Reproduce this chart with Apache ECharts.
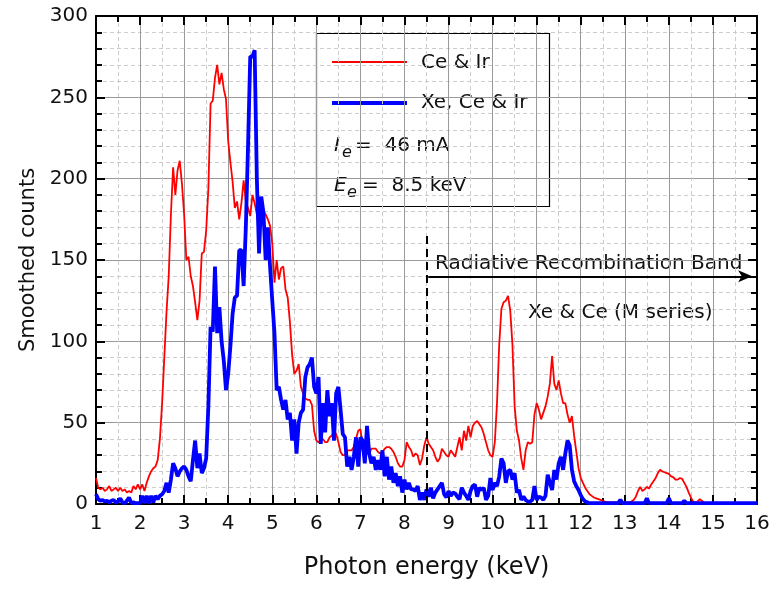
<!DOCTYPE html>
<html>
<head>
<meta charset="utf-8">
<script src="https://cdn.jsdelivr.net/npm/echarts@6/dist/echarts.min.js"></script>
<style>
  html, body { margin: 0; padding: 0; background: #fff; }
  #chart { width: 773px; height: 590px; }
</style>
</head>
<body>
<div id="chart"></div>
<script>
  // photon energy grid: 1.00 .. 16.00 keV in 0.05 keV steps
  const energyStart = 1
  const energyStep = 0.05

  // Ce & Ir (one row per keV)
  const ceIrCounts = [
    16, 10, 9, 10, 8, 9, 11, 8, 9, 10, 8, 10, 8, 9, 7, 8, 7, 11, 9, 12,
    9, 12, 8, 13, 17, 20, 22, 23, 27, 40, 62, 90, 118, 140, 178, 207, 190, 205, 211, 197,
    178, 150, 152, 140, 134, 124, 113, 125, 154, 155, 168, 194, 246, 248, 262, 270, 258, 265, 255, 249,
    223, 210, 198, 182, 186, 175, 185, 199, 186, 182, 177, 190, 185, 178, 168, 183, 180, 178, 175, 171,
    160, 136, 150, 138, 145, 146, 132, 127, 112, 92, 80, 82, 86, 72, 68, 65, 64, 64, 61, 45,
    39, 38, 39, 40, 38, 38, 41, 42, 45, 43, 38, 32, 30, 30, 33, 33, 33, 35, 40, 45,
    46, 36, 32, 31, 31, 34, 34, 34, 32, 31, 32, 34, 35, 35, 34, 32, 29, 25, 23, 23,
    27, 38, 35, 33, 29, 31, 30, 24, 28, 36, 41, 37, 35, 33, 29, 26, 28, 34, 32, 30,
    29, 33, 31, 29, 35, 41, 33, 45, 39, 48, 41, 48, 50, 51, 49, 47, 43, 38, 33, 30,
    29, 38, 62, 98, 120, 124, 125, 128, 119, 98, 60, 45, 39, 28, 21, 33, 38, 37, 38, 55,
    62, 58, 52, 56, 60, 66, 74, 91, 74, 70, 76, 68, 62, 62, 55, 50, 54, 42, 32, 22,
    16, 13, 10, 8, 6, 5, 4, 3.5, 3, 2.5, 2, 1.5, 1.2, 1, 1, 1.2, 1, 1, 1, 1.2,
    1, 1, 1.2, 1.5, 2.5, 4.5, 8, 10.5, 8, 9, 10.5, 9.5, 12, 14, 16, 19, 21, 20, 19.5, 19,
    18.5, 17, 16.5, 15, 15, 16, 15.5, 13, 10.5, 7, 4, 1.5, 1, 1.5, 3, 2, 0.8, 0.5, 0.5, 0.5,
    0.5, 0.5, 0.5, 0.5, 0.5, 0.5, 0.5, 0.5, 0.5, 0.5, 0.5, 0.5, 0.5, 0.5, 0.5, 0.5, 0.5, 0.5, 0.5, 0.5,
    0.5
  ]

  // Xe, Ce & Ir
  const xeCeIrCounts = [
    6, 3, 2, 2.5, 1.5, 2, 1, 2, 2.5, 1, 1.5, 3.5, 1, 0.5, 2, 4, 0.5, 1, 0.5, 0.5,
    0.5, 5, 0.5, 5, 0.5, 5, 1, 5, 3, 5, 6, 8, 13, 7, 15, 25, 22, 17, 20, 22,
    23, 21, 17, 14, 27, 39, 22, 31, 19, 22, 28, 60, 109, 106, 146, 105, 121, 100, 88, 70,
    80, 97, 117, 127, 128, 156, 156, 134, 170, 220, 275, 275, 279, 200, 154, 189, 179, 150, 170, 146,
    125, 105, 70, 72, 64, 58, 64, 52, 56, 39, 52, 31, 50, 56, 58, 78, 84, 86, 90, 72,
    68, 78, 37, 62, 44, 70, 54, 62, 39, 68, 72, 58, 43, 41, 23, 29, 21, 29, 41, 23,
    41, 39, 25, 48, 31, 25, 29, 21, 27, 21, 33, 17, 29, 15, 23, 13, 19, 11, 17, 7,
    15, 9, 13, 9, 9, 8, 11, 2.5, 7, 2.5, 9, 4.5, 10, 3.5, 7, 9, 11, 13, 6, 4,
    8, 5, 7, 6.5, 4.5, 3, 10, 7, 5, 2.5, 8, 11, 12, 4.5, 10, 8.6, 10, 2.5, 5, 16,
    8.6, 13, 11, 17, 28, 25, 13, 20, 21, 15, 19, 7, 8.6, 2.5, 4.5, 2.5, 1.5, 1.5, 2.5, 11,
    2.5, 4.5, 4, 2.5, 5, 18, 13, 8.6, 21, 15, 25, 29, 21, 31, 39, 36, 21, 14, 11, 8.6,
    5.5, 3, 1.5, 1, 0.5, 0.5, 0.5, 0.5, 0.5, 0.5, 0.5, 0.5, 0.5, 0.5, 0.5, 0.5, 0.5, 0.5, 2.5, 0.5,
    0.5, 0.5, 0.5, 0.5, 0.5, 0.5, 0.5, 0.5, 0.5, 0.5, 3.5, 0.5, 0.5, 0.5, 0.5, 0.5, 0.5, 0.5, 0.5, 0.5,
    3.5, 0.5, 0.5, 0.5, 0.5, 0.5, 0.5, 2, 0.5, 0.5, 0.5, 0.5, 0.5, 0.5, 0.5, 0.5, 0.5, 0.5, 0.5, 0.5,
    0.5, 0.5, 0.5, 0.5, 0.5, 0.5, 0.5, 0.5, 0.5, 0.5, 0.5, 0.5, 0.5, 0.5, 0.5, 0.5, 0.5, 0.5, 0.5, 0.5,
    0.5
  ]

  const seriesNames = ['Ce & Ir', 'Xe, Ce & Ir']
  const beamCurrent = '46 mA'
  const beamEnergy = '8.5 keV'
  const bandStart = 8.5
  const bandLevel = 140
  const dashTop = 167

  function pairs(counts) {
    return counts.map((c, i) => [+(energyStart + i * energyStep).toFixed(2), c])
  }

  const font = 'DejaVu Sans'
  const textColor = '#111'

  const axisLine = {show: true, onZero: false, lineStyle: {color: '#000', width: 2}}
  const tick = {show: true, inside: true, length: 9, lineStyle: {color: '#000', width: 2}}

  function label(x, y, text, size, style) {
    return {
      type: 'text',
      x: x,
      y: y,
      style: {
        text: text,
        font: (style || '') + ' ' + size + 'px ' + font,
        fill: textColor,
        textVerticalAlign: 'middle',
        verticalAlign: 'middle'
      }
    }
  }

  let chart = echarts.init(document.getElementById('chart'))
  let option = {
    animation: false,
    backgroundColor: '#fff',
    grid: {left: 96, right: 16, top: 16, bottom: 86},
    xAxis: [
      {
        type: 'value',
        min: 1,
        max: 16,
        interval: 1,
        name: 'Photon energy (keV)',
        nameLocation: 'middle',
        nameGap: 52,
        nameTextStyle: {fontFamily: font, fontSize: 24, color: textColor},
        axisLine: axisLine,
        axisTick: tick,
        minorTick: {show: true, splitNumber: 2, length: 6, lineStyle: {color: '#000', width: 2}},
        axisLabel: {fontFamily: font, fontSize: 20, color: textColor, margin: 10},
        splitLine: {show: true, lineStyle: {color: '#9a9a9a', width: 1}},
        minorSplitLine: {show: true, lineStyle: {color: '#cccccc', type: [4, 3], width: 1}}
      },
      {
        type: 'value',
        position: 'top',
        min: 1,
        max: 16,
        interval: 1,
        axisLine: axisLine,
        axisTick: tick,
        minorTick: {show: true, splitNumber: 2, length: 6, lineStyle: {color: '#000', width: 2}},
        axisLabel: {show: false},
        splitLine: {show: false}
      }
    ],
    yAxis: [
      {
        type: 'value',
        min: 0,
        max: 300,
        interval: 50,
        name: 'Smoothed counts',
        nameLocation: 'middle',
        nameGap: 55,
        nameTextStyle: {fontFamily: font, fontSize: 21, color: textColor},
        axisLine: axisLine,
        axisTick: tick,
        minorTick: {show: true, splitNumber: 5, length: 6, lineStyle: {color: '#000', width: 2}},
        axisLabel: {fontFamily: font, fontSize: 20, color: textColor, margin: 8},
        splitLine: {show: true, lineStyle: {color: '#9a9a9a', width: 1}},
        minorSplitLine: {show: true, lineStyle: {color: '#cccccc', type: [4, 3], width: 1}}
      },
      {
        type: 'value',
        position: 'right',
        min: 0,
        max: 300,
        interval: 50,
        axisLine: axisLine,
        axisTick: tick,
        minorTick: {show: true, splitNumber: 5, length: 6, lineStyle: {color: '#000', width: 2}},
        axisLabel: {show: false},
        splitLine: {show: false}
      }
    ],
    series: [
      {
        name: seriesNames[0],
        type: 'line',
        data: pairs(ceIrCounts),
        showSymbol: false,
        lineStyle: {color: '#ff0000', width: 1.8},
        z: 3,
        markLine: {
          silent: true,
          label: {show: false},
          data: [
            [
              {coord: [bandStart, 0], symbol: 'none', lineStyle: {color: '#000', width: 2, type: [8, 5]}},
              {coord: [bandStart, dashTop], symbol: 'none'}
            ],
            [
              {coord: [bandStart + 0.04, bandLevel], symbol: 'none', lineStyle: {color: '#000', width: 2, type: 'solid'}},
              {coord: [15.89, bandLevel], symbol: 'arrow', symbolSize: [9, 14]}
            ]
          ]
        }
      },
      {
        name: seriesNames[1],
        type: 'line',
        data: pairs(xeCeIrCounts),
        showSymbol: false,
        lineStyle: {color: '#0000ff', width: 3.8},
        z: 4
      }
    ],
    graphic: [
      {
        type: 'group',
        z: 100,
        children: [
          {type: 'rect', shape: {x: 316.5, y: 33.5, width: 233, height: 173}, style: {fill: '#fff', stroke: '#000', lineWidth: 1.2}},
          {type: 'line', shape: {x1: 332, y1: 62, x2: 407, y2: 62}, style: {stroke: '#ff0000', lineWidth: 1.8}},
          {type: 'line', shape: {x1: 332, y1: 103, x2: 407, y2: 103}, style: {stroke: '#0000ff', lineWidth: 3.8}},
          label(421, 63, seriesNames[0], 20),
          label(421, 103, seriesNames[1], 20),
          label(334, 146, 'I', 20, 'italic'),
          label(342, 153, 'e', 16, 'italic'),
          label(355, 146, '=  ' + beamCurrent, 20),
          label(334, 186, 'E', 20, 'italic'),
          label(347, 193, 'e', 16, 'italic'),
          label(362, 186, '=  ' + beamEnergy, 20),
          label(435, 264, 'Radiative Recombination Band', 20),
          label(528, 313, 'Xe & Ce (M series)', 20)
        ]
      }
    ]
  }
  chart.setOption(option)
</script>
</body>
</html>
